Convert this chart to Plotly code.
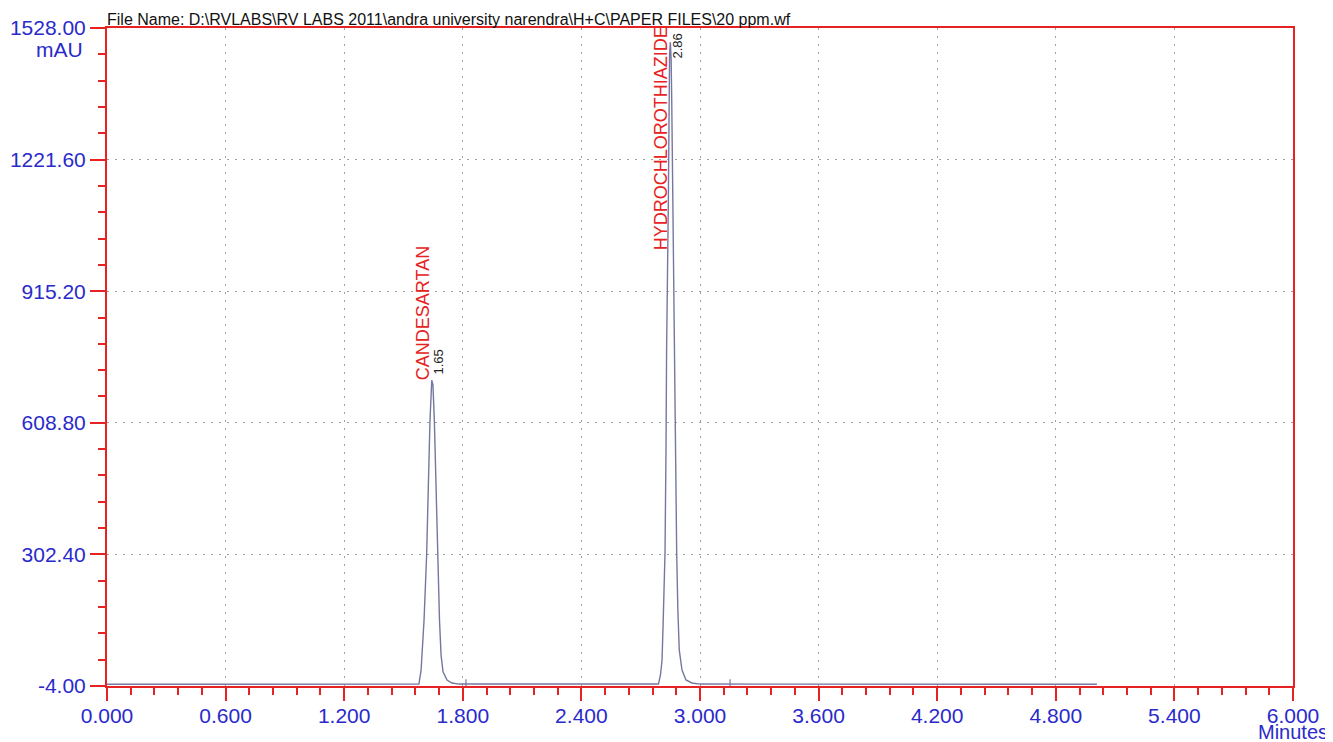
import plotly.graph_objects as go

# ---- data ----
time_min = [0.000, 1.578, 1.589, 1.604, 1.617, 1.626, 1.634, 1.643, 1.649, 1.656,
            1.664, 1.673, 1.682, 1.690, 1.700, 1.720, 1.745, 1.780,
            2.790, 2.800, 2.808, 2.814, 2.823, 2.828, 2.831, 2.840, 2.843, 2.846,
            2.850, 2.854, 2.857, 2.862, 2.870, 2.876, 2.882, 2.888, 2.895, 2.909,
            2.929, 2.959, 3.000, 5.008]
absorbance_mau = [0.0, 0.5, 33, 150, 301, 476, 615, 708, 697, 615,
                  452, 301, 150, 68, 29, 10, 3, 0.5,
                  0.5, 21.6, 56.5, 150, 306, 545, 778, 1128, 1360, 1465,
                  1495, 1454, 1360, 1128, 778, 545, 306, 173, 80, 33,
                  10, 3, 0.5, 0.0]

peak_names = ["CANDESARTAN", "HYDROCHLOROTHIAZIDE"]
peak_rt_labels = ["1.65", "2.86"]
peak_name_x = [1.600, 2.803]
peak_name_y = [704, 1006]
peak_rt_x = [1.676, 2.888]
peak_rt_y = [716, 1453]

integration_marks = [1.816, 3.152]
integration_mark_y = [-4, 12]

x_tick_vals = [0.0, 0.6, 1.2, 1.8, 2.4, 3.0, 3.6, 4.2, 4.8, 5.4, 6.0]
x_tick_text = ["0.000", "0.600", "1.200", "1.800", "2.400", "3.000",
               "3.600", "4.200", "4.800", "5.400", "6.000"]
y_tick_vals = [-4.00, 302.40, 608.80, 915.20, 1221.60, 1528.00]
y_tick_text = ["-4.00", "302.40", "608.80", "915.20", "1221.60", "1528.00"]

title_text = r"File Name: D:\RVLABS\RV LABS 2011\andra university narendra\H+C\PAPER FILES\20 ppm.wf"

RED = "#e62222"
BLUE = "#2a2acb"
FONT = "Liberation Sans, Arial, sans-serif"

fig = go.Figure()
fig.add_trace(go.Scatter(x=time_min, y=absorbance_mau, mode="lines",
                         line=dict(color="#74789e", width=1.4),
                         hoverinfo="x+y", showlegend=False))

for xm in integration_marks:
    fig.add_trace(go.Scatter(x=[xm, xm], y=integration_mark_y, mode="lines",
                             line=dict(color="#74789e", width=1.2),
                             hoverinfo="skip", showlegend=False))

for name, xn, yn in zip(peak_names, peak_name_x, peak_name_y):
    fig.add_annotation(x=xn, y=yn, text=name, textangle=-90, showarrow=False,
                       xanchor="center", yanchor="bottom",
                       font=dict(family=FONT, size=18, color=RED))
for lab, xr, yr in zip(peak_rt_labels, peak_rt_x, peak_rt_y):
    fig.add_annotation(x=xr, y=yr, text=lab, textangle=-90, showarrow=False,
                       xanchor="center", yanchor="bottom",
                       font=dict(family=FONT, size=13, color="#222222"))

fig.add_annotation(xref="paper", yref="paper", x=0, y=1, text=title_text,
                   showarrow=False, xanchor="left", yanchor="middle", yshift=9, xshift=-2,
                   font=dict(family=FONT, size=16, color="#111111"))
fig.add_annotation(xref="paper", yref="paper", x=0, y=1, text="mAU",
                   showarrow=False, xanchor="right", yanchor="top", xshift=-22, yshift=-8,
                   font=dict(family=FONT, size=21, color=BLUE))
fig.add_annotation(xref="paper", yref="paper", x=1, y=0, text="Minutes",
                   showarrow=False, xanchor="center", yanchor="top", xshift=0, yshift=-33,
                   font=dict(family=FONT, size=20, color=BLUE))

grid_dash = "1.5px,6.5px"
fig.update_xaxes(range=[0, 6], tickvals=x_tick_vals, ticktext=x_tick_text,
                 automargin=False,
                 showline=True, linecolor=RED, linewidth=2, mirror=True,
                 ticks="outside", ticklen=13, tickwidth=2, tickcolor=RED,
                 ticklabelstandoff=-3,
                 showgrid=True, gridcolor="#a0a0a0", gridwidth=1, griddash=grid_dash,
                 minor=dict(dtick=0.12, tick0=0, ticks="outside", ticklen=7,
                            tickwidth=2, tickcolor=RED, showgrid=False),
                 tickfont=dict(family=FONT, size=21, color=BLUE), zeroline=False)
fig.update_yaxes(range=[-4, 1528], tickvals=y_tick_vals, ticktext=y_tick_text,
                 automargin=False,
                 showline=True, linecolor=RED, linewidth=2, mirror=True,
                 ticks="outside", ticklen=15, tickwidth=2, tickcolor=RED,
                 showgrid=True, gridcolor="#a0a0a0", gridwidth=1, griddash=grid_dash,
                 minor=dict(dtick=61.28, tick0=-4, ticks="outside", ticklen=7,
                            tickwidth=2, tickcolor=RED, showgrid=False),
                 tickfont=dict(family=FONT, size=21, color=BLUE), zeroline=False)

# page body has an 8px margin, so margins are offset to place the plot area
fig.update_layout(width=1333, height=742, autosize=False,
                  margin=dict(l=99, r=48, t=20, b=64, pad=0),
                  plot_bgcolor="white", paper_bgcolor="white",
                  font=dict(family=FONT))

fig.write_html("out.html")
